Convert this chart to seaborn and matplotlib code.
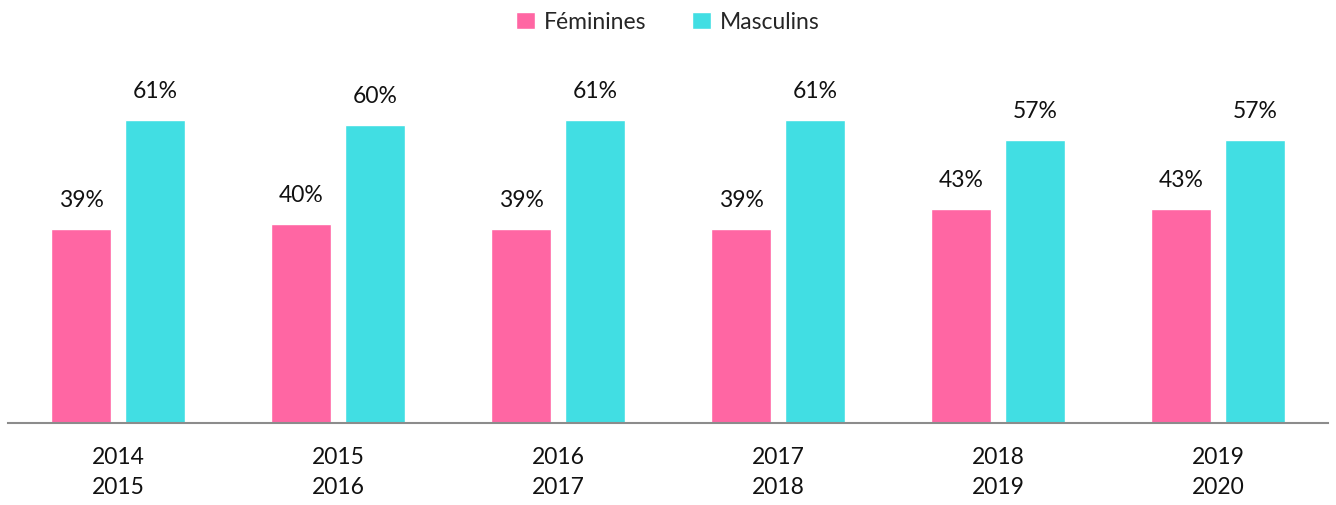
import pandas as pd
import matplotlib.pyplot as plt
import seaborn as sns

# Data
saisons = ['2014\n2015', '2015\n2016', '2016\n2017', '2017\n2018', '2018\n2019', '2019\n2020']
feminines = [39, 40, 39, 39, 43, 43]
masculins = [61, 60, 61, 61, 57, 57]

df = pd.DataFrame({
    'saison': saisons * 2,
    'part': feminines + masculins,
    'sexe': ['Féminines'] * len(saisons) + ['Masculins'] * len(saisons),
})

sns.set_style('white')
plt.rcParams['font.family'] = ['Lato', 'DejaVu Sans']

fig = plt.figure(figsize=(13.36, 5.05), dpi=100)
ax = fig.add_axes([8 / 1336, 82 / 505, 1320 / 1336, 348 / 505])

palette = {'Féminines': '#FF66A3', 'Masculins': '#41DEE3'}
sns.barplot(data=df, x='saison', y='part', hue='sexe', palette=palette,
            width=0.67, gap=0.19, saturation=1, ax=ax, legend=True)

for cont in ax.containers:
    ax.bar_label(cont, labels=[f'{v:.0f}%' for v in cont.datavalues],
                 padding=13, fontsize=16.5, color='#111111')

ax.set_ylim(0, 70)
ax.set_xlim(-0.5, 5.5)
ax.set_xlabel('')
ax.set_ylabel('')
ax.set_yticks([])
ax.tick_params(axis='x', length=0, pad=17, labelsize=16.5, colors='#111111')
for lbl in ax.get_xticklabels():
    lbl.set_linespacing(1.55)
for s in ['top', 'left', 'right']:
    ax.spines[s].set_visible(False)
ax.spines['bottom'].set_color('#8c8c8c')
ax.spines['bottom'].set_linewidth(1.5)

handles, labels = ax.get_legend_handles_labels()
ax.get_legend().remove()
fig.legend(handles, labels, loc='upper center', bbox_to_anchor=(0.5, 1.018),
           ncol=2, frameon=False, fontsize=16.5, handlelength=0.8,
           handleheight=0.8, handletextpad=0.4, columnspacing=2.0)

fig.savefig('out.png', dpi=100)
